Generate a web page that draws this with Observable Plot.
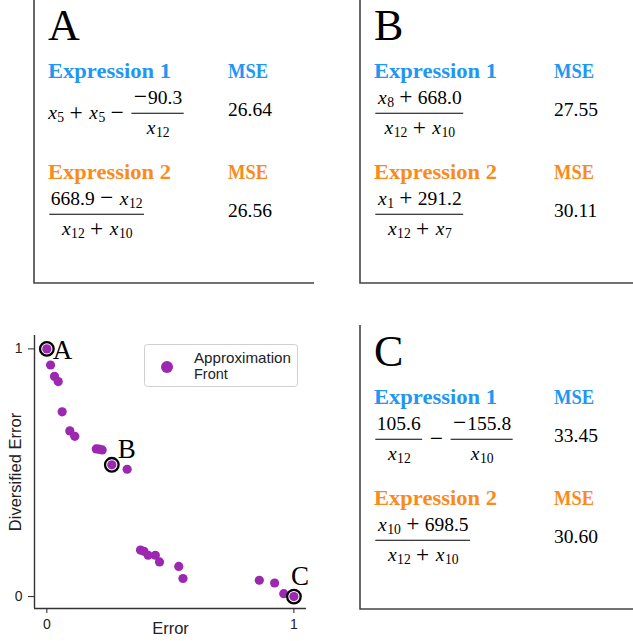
<!DOCTYPE html>
<html><head><meta charset="utf-8">
<script src="https://cdn.jsdelivr.net/npm/d3@7"></script>
<script src="https://cdn.jsdelivr.net/npm/@observablehq/plot@0.6"></script>
<style>
html,body{margin:0;padding:0;background:#fff;}
#fig{position:relative;width:633px;height:641px;overflow:hidden;background:#fff;}
#scatter{position:absolute;left:0;top:320px;}
#overlay{position:absolute;left:0;top:0;pointer-events:none;}
</style></head><body>
<div id="fig"><div id="scatter"></div></div>
<script>
// ---------- data ----------
const errorVals  = [0, 0.015, 0.031, 0.046, 0.062, 0.093, 0.113, 0.200, 0.211, 0.224, 0.263, 0.325,
                    0.379, 0.393, 0.410, 0.439, 0.456, 0.534, 0.551, 0.860, 0.922, 0.959, 1];
const divErrVals = [1, 0.935, 0.889, 0.868, 0.746, 0.669, 0.647, 0.596, 0.595, 0.592, 0.532, 0.514,
                    0.188, 0.183, 0.167, 0.167, 0.140, 0.122, 0.073, 0.066, 0.055, 0.012, 0];
const labelNames = ["A", "B", "C"];
const labelIdx   = [0, 10, 22];
const xTicks = [0, 1];
const yTicks = [0, 1];
const xLabel = "Error";
const yLabel = "Diversified Error";
const legendLabel = ["Approximation", "Front"];

const panelNames = ["A", "B", "C"];
const expr1 = ["x_{5} + x_{5} - \\frac{-90.3}{x_{12}}",
               "\\frac{x_{8} + 668.0}{x_{12} + x_{10}}",
               "\\frac{105.6}{x_{12}} - \\frac{-155.8}{x_{10}}"];
const expr2 = ["\\frac{668.9 - x_{12}}{x_{12} + x_{10}}",
               "\\frac{x_{1} + 291.2}{x_{12} + x_{7}}",
               "\\frac{x_{10} + 698.5}{x_{12} + x_{10}}"];
const mse1 = ["26.64", "27.55", "33.45"];
const mse2 = ["26.56", "30.11", "30.60"];
const head1 = "Expression 1", head2 = "Expression 2", mseHead = "MSE";

// ---------- styles ----------
const purple = "#9c27b0", blue = "#2196f3", orange = "#fb8a1c";
const serif = '"Liberation Serif", "Times New Roman", serif';
const sans = '"Liberation Sans", Arial, sans-serif';

// ---------- scatter (Plot) ----------
const pts = errorVals.map((e, i) => ({error: e, div: divErrVals[i]}));
const hl = labelIdx.map((k, j) => ({...pts[k], name: labelNames[j]}));
const xDom = [-0.05, 1.051], yDom = [-0.048, 1.054];
const labelMark = (name, dx, dy) => Plot.text(hl.filter(d => d.name === name), {
  x: "error", y: "div", text: "name", dx, dy, textAnchor: "start", lineAnchor: "bottom",
  fontFamily: serif, fontSize: 27, fill: "#000"});
const chart = Plot.plot({
  width: 320, height: 321,
  marginLeft: 34, marginRight: 14, marginTop: 15, marginBottom: 33,
  style: {fontFamily: sans, fontSize: "14px", color: "#222", background: "transparent"},
  x: {domain: xDom, ticks: xTicks, tickFormat: d => String(d), tickSize: 5, tickPadding: 6, label: null},
  y: {domain: yDom, ticks: yTicks, tickFormat: d => String(d), tickSize: 6, tickPadding: 6, label: null},
  marks: [
    Plot.ruleX([xDom[0]], {stroke: "#333", strokeWidth: 1.4}),
    Plot.ruleY([yDom[0]], {stroke: "#333", strokeWidth: 1.4}),
    Plot.dot(pts, {x: "error", y: "div", r: 4.6, fill: purple}),
    Plot.dot(hl, {x: "error", y: "div", r: 6.8, stroke: "#000", strokeWidth: 2.3, fill: "none"}),
    labelMark("A", 6, 10),
    labelMark("B", 6, -6.7),
    labelMark("C", -3, -12),
    Plot.text([xLabel], {text: d => d, frameAnchor: "bottom", textAnchor: "middle", lineAnchor: "bottom", dy: 25, fontSize: 16.5, fill: "#222"}),
    Plot.text([yLabel], {text: d => d, frameAnchor: "left", textAnchor: "middle", rotate: -90, dx: -19, lineAnchor: "middle", fontSize: 16.5, fill: "#222"})
  ]
});
document.getElementById("scatter").appendChild(chart);

// ---------- overlay: panels + legend ----------
const svg = d3.select("#fig").append("svg").attr("id", "overlay").attr("width", 633).attr("height", 641);

const FS = 19.5, MED = FS * 4 / 18, SUBDROP = FS * 0.15, NUMUP = 9.3, DENDOWN = 21, AXIS = 6,
      BARPAD = 1.5, NULLD = 2.3, OPW = FS * 0.778, XW = FS * 0.572, OPFS = FS * 1.2;

function addText(g, str, x, y, o = {}) {
  const t = g.append("text").attr("x", x).attr("y", y)
    .attr("font-family", o.family || serif).attr("font-size", o.size || FS)
    .attr("fill", o.fill || "#000").text(str);
  if (o.italic) t.attr("font-style", "italic");
  if (o.bold) t.attr("font-weight", "bold");
  if (o.anchor) t.attr("text-anchor", o.anchor);
  if (o.len) t.attr("textLength", o.len).attr("lengthAdjust", "spacingAndGlyphs");
  return t.node().getComputedTextLength();
}
const tokens = s => s.match(/x_\{?\d+\}?|\d+(?:\.\d+)?|[+\-]/g) || [];
function drawRun(parent, s, prevOperand) {
  const g = parent.append("g");
  let cx = 0, prev = prevOperand;
  for (const tok of tokens(s)) {
    if (tok === "+" || tok === "-") {
      const sym = tok === "-" ? "\u2212" : "+";
      if (prev) cx += MED;
      addText(g, sym, cx + OPW / 2, 0.4, {anchor: "middle", size: OPFS});
      cx += OPW;
      if (prev) cx += MED;
      prev = false;
    } else if (tok[0] === "x") {
      const sub = tok.replace(/\D/g, "");
      addText(g, "x", cx + FS * 0.06, 0, {italic: true});
      cx += XW - FS * 0.04;
      cx += addText(g, sub, cx, SUBDROP, {size: FS * 0.7});
      prev = true;
    } else { cx += addText(g, tok, cx, 0); prev = true; }
  }
  return {g, w: cx, prev};
}
function readGroup(s, j) {
  let depth = 1, k = j;
  while (k < s.length && depth > 0) { if (s[k] === "{") depth++; else if (s[k] === "}") depth--; k++; }
  return [s.slice(j, k - 1), k];
}
function parseExpr(s) {
  const items = []; let i = 0;
  while (i < s.length) {
    const k = s.indexOf("\\frac{", i);
    if (k < 0) { items.push({run: s.slice(i)}); break; }
    if (k > i) items.push({run: s.slice(i, k)});
    const [num, j2] = readGroup(s, k + 6);
    const [den, j3] = readGroup(s, j2 + 1);
    items.push({frac: [num, den]});
    i = j3;
  }
  return items;
}
function drawExpr(parent, s, x0, axisY) {
  let cx = x0, prev = false;
  for (const it of parseExpr(s)) {
    if (it.run !== undefined) {
      if (!it.run.trim()) continue;
      const r = drawRun(parent, it.run, prev);
      r.g.attr("transform", `translate(${cx},${axisY + AXIS})`);
      cx += r.w; prev = r.prev;
    } else {
      cx += NULLD;
      const n = drawRun(parent, it.frac[0], false), d = drawRun(parent, it.frac[1], false);
      const w = Math.max(n.w, d.w) + 2 * BARPAD;
      n.g.attr("transform", `translate(${cx + (w - n.w) / 2},${axisY - NUMUP})`);
      d.g.attr("transform", `translate(${cx + (w - d.w) / 2},${axisY + DENDOWN})`);
      parent.append("line").attr("x1", cx).attr("x2", cx + w).attr("y1", axisY).attr("y2", axisY)
        .attr("stroke", "#000").attr("stroke-width", 1.1);
      cx += w + NULLD; prev = true;
    }
  }
}

const panelLeft = [34, 360, 360], panelTop = [0, 0, 326], panelBottom = [283, 283, 609], panelRight = [314, 633, 633];
panelNames.forEach((name, p) => {
  const L = panelLeft[p], T = panelTop[p];
  const g = svg.append("g");
  g.append("path").attr("d", `M${L},${p === 2 ? 325 : 0}V${panelBottom[p]}H${panelRight[p]}`)
    .attr("fill", "none").attr("stroke", "#444").attr("stroke-width", 1.6);
  addText(g, name, L + 14, T + 40, {size: 44});
  addText(g, head1, L + 14, T + 77.5, {bold: true, fill: blue, size: 21, len: 123});
  addText(g, mseHead, L + 194, T + 77.5, {bold: true, fill: blue, size: 21, len: 40});
  drawExpr(g, expr1[p], L + 13, T + 113.3);
  addText(g, mse1[p], L + 194, T + 115.5);
  addText(g, head2, L + 14, T + 178.5, {bold: true, fill: orange, size: 21, len: 123});
  addText(g, mseHead, L + 194, T + 178.5, {bold: true, fill: orange, size: 21, len: 40});
  drawExpr(g, expr2[p], L + 13, T + 214.3);
  addText(g, mse2[p], L + 194, T + 217);
});

// legend box (inside scatter area)
const lg = svg.append("g");
lg.append("rect").attr("x", 144.5).attr("y", 344.5).attr("width", 153).attr("height", 42).attr("rx", 3)
  .attr("fill", "#fff").attr("stroke", "#d0d0d0").attr("stroke-width", 1);
lg.append("circle").attr("cx", 167).attr("cy", 367).attr("r", 6).attr("fill", purple);
addText(lg, legendLabel[0], 194, 362.5, {family: sans, size: 14.5, fill: "#222", len: 97});
addText(lg, legendLabel[1], 194, 378.5, {family: sans, size: 14.5, fill: "#222"});
</script>
</body></html>
